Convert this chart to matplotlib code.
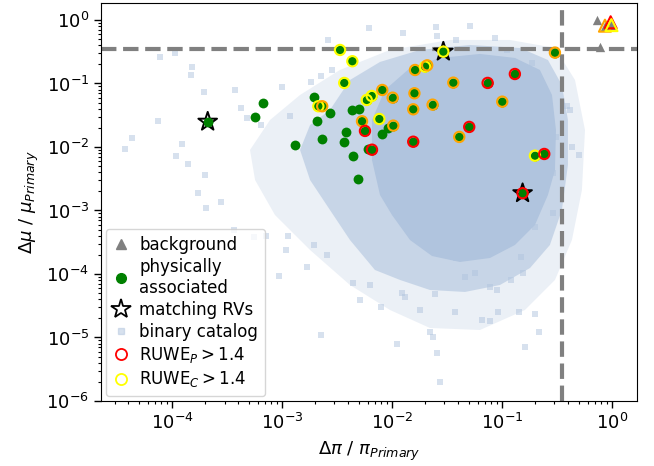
import numpy as np
import matplotlib
matplotlib.use("Agg")
import matplotlib.pyplot as plt
from matplotlib.lines import Line2D

# ---------------- data ----------------
# physically associated pairs: parallax ratio, proper-motion ratio, RUWE flags
pi_ratio = [0.00337, 0.00436, 0.00368, 0.00195, 0.00214, 0.00232, 0.00273, 0.00207,
            0.00436, 0.00504, 0.00589, 0.00654, 0.00816, 0.01014, 0.0162, 0.0160,
            0.0156, 0.00534, 0.00767, 0.00568, 0.00379, 0.00230, 0.00364, 0.00914,
            0.01028, 0.00816, 0.00609, 0.00658, 0.00439, 0.00491, 0.0156, 0.00131,
            0.000676, 0.000569, 0.000211, 0.0293, 0.303, 0.0200, 0.0209, 0.131,
            0.0741, 0.0361, 0.0234, 0.1006, 0.0504, 0.0409, 0.1995, 0.2425, 0.154]
mu_ratio = [0.337, 0.224, 0.102, 0.0607, 0.0438, 0.0438, 0.0339, 0.0260,
            0.0383, 0.0392, 0.0550, 0.0636, 0.0790, 0.0598, 0.163, 0.0701,
            0.0392, 0.0254, 0.0276, 0.0179, 0.0174, 0.0134, 0.0121, 0.0197,
            0.0217, 0.0158, 0.00940, 0.00906, 0.00722, 0.00310, 0.0121, 0.0107,
            0.0493, 0.0294, 0.0250, 0.317, 0.306, 0.184, 0.193, 0.141,
            0.102, 0.103, 0.0464, 0.0517, 0.0207, 0.0144, 0.00730, 0.00776, 0.00187]
ruwe_p = [0, 0, 0, 0, 0, 1, 0, 0, 0, 0, 0, 0, 1, 1, 1, 1, 1, 1, 0, 1, 0, 0, 0, 0,
          1, 0, 0, 1, 0, 0, 1, 0, 0, 0, 0, 0, 1, 0, 1, 1, 1, 1, 1, 1, 1, 1, 0, 1, 1]
ruwe_c = [1, 1, 1, 0, 1, 1, 0, 0, 0, 0, 1, 1, 1, 1, 1, 1, 1, 1, 1, 0, 0, 0, 0, 0,
          1, 0, 0, 0, 0, 0, 0, 0, 0, 0, 0, 1, 1, 1, 1, 0, 0, 1, 1, 1, 0, 1, 1, 0, 0]
rv_match = [0] * 34 + [1, 1] + [0] * 12 + [1]

# background pairs
bg_pi = [0.735, 0.778, 0.864, 0.973, 0.99]
bg_mu = [1.0, 0.380, 0.813, 0.92, 0.83]
bg_ruwe_p = [0, 0, 1, 1, 0]
bg_ruwe_c = [0, 0, 1, 0, 1]

# binary catalog: density contours of the dense body (log10 values) ...
cat_outer_logx = [-3.109, -2.836, -2.473, -2.018, -1.473, -0.927, -0.518, -0.336, -0.245,
                  -0.273, -0.364, -0.518, -0.791, -1.200, -1.655, -2.018, -2.382, -2.745,
                  -3.064, -3.245, -3.291]
cat_outer_logy = [-1.575, -1.181, -0.787, -0.472, -0.315, -0.315, -0.441, -0.945, -1.732,
                  -2.677, -3.465, -4.094, -4.567, -4.882, -4.850, -4.567, -4.173, -3.622,
                  -3.071, -2.520, -2.047]
cat_mid_logx = [-2.564, -2.382, -2.109, -1.745, -1.291, -0.836, -0.582, -0.455, -0.400,
                -0.400, -0.455, -0.564, -0.745, -1.018, -1.336, -1.655, -1.927, -2.155,
                -2.382, -2.564, -2.745, -2.836, -2.745]
cat_mid_logy = [-1.417, -0.945, -0.661, -0.472, -0.394, -0.441, -0.630, -1.024, -1.575,
                -2.283, -2.992, -3.543, -3.906, -4.173, -4.283, -4.252, -4.094, -3.937,
                -3.465, -2.992, -2.520, -2.047, -1.654]
cat_core_logx = [-2.182, -2.064, -1.836, -1.564, -1.200, -0.882, -0.655, -0.545, -0.509,
                 -0.518, -0.582, -0.700, -0.882, -1.109, -1.382, -1.636, -1.836, -2.000,
                 -2.109, -2.182]
cat_core_logy = [-1.575, -1.102, -0.756, -0.598, -0.535, -0.598, -0.787, -1.181, -1.732,
                 -2.362, -2.756, -3.228, -3.543, -3.748, -3.811, -3.717, -3.465, -3.071,
                 -2.756, -2.205]
# ... and individual sparse catalog pairs
cat_pi = [7.85e-5, 1.06e-4, 1.52e-4, 1.48e-4, 1.94e-4, 3.70e-4, 7.45e-5, 4.30e-5, 3.77e-5,
          1.22e-4, 1.08e-4, 1.41e-4, 2.01e-4, 1.73e-4, 2.80e-4, 2.04e-4, 4.28e-4, 4.85e-4,
          6.50e-4, 1.01e-3, 1.17e-3, 1.82e-3, 2.63e-3, 2.83e-3, 2.27e-3, 6.21e-3, 1.26e-2,
          2.51e-2, 5.07e-2, 2.56e-2, 3.84e-2, 8.61e-2, 0.111, 0.186, 0.212, 0.388, 0.417,
          0.433, 0.501, 0.311, 0.289, 0.216, 0.289, 0.200, 1.13e-3, 1.09e-3, 1.96e-3,
          2.54e-3, 1.69e-3, 9.40e-4, 4.40e-3, 5.09e-3, 6.34e-3, 7.91e-3, 1.23e-2, 1.32e-2,
          2.21e-2, 2.38e-2, 2.56e-2, 2.75e-2, 1.10e-2, 2.47e-2, 1.81e-2, 3.78e-2, 6.65e-2,
          7.71e-2, 9.27e-2, 0.144, 0.200, 0.216, 0.161, 7.71e-2, 8.93e-2, 0.120, 0.155,
          0.149, 4.61e-2, 5.74e-2, 3.84e-2, 3.19e-2, 2.24e-3, 5.62e-4, 3.67e-4, 7.16e-4]
cat_mu = [0.258, 0.306, 0.184, 0.136, 0.0726, 0.079, 0.026, 0.0140, 0.00919,
          0.0111, 0.00731, 0.00540, 0.00362, 0.00191, 0.00138, 0.00111, 0.0406, 0.0283,
          0.0222, 0.0871, 0.0308, 0.107, 0.484, 0.163, 0.131, 0.757, 0.617,
          0.785, 0.814, 0.567, 0.484, 0.514, 0.337, 0.208, 0.107, 0.0442, 0.0383,
          0.0101, 0.00748, 0.0146, 0.00385, 0.00146, 9.02e-4, 5.56e-4, 4.02e-4, 2.39e-4, 2.86e-4,
          1.99e-4, 1.27e-4, 9.30e-5, 7.13e-5, 3.90e-5, 6.71e-5, 3.06e-5, 4.97e-5, 4.40e-5,
          1.24e-5, 1.03e-5, 5.64e-6, 2.01e-6, 7.80e-6, 4.79e-5, 2.71e-5, 2.55e-5, 1.89e-5,
          1.82e-5, 2.55e-5, 2.55e-5, 2.34e-5, 1.24e-5, 7.17e-6, 6.32e-5, 5.60e-5, 8.05e-5, 1.05e-4,
          1.88e-4, 9.08e-5, 1.02e-4, 1.77e-4, 2.11e-4, 1.09e-5, 3.87e-4, 4.93e-4, 3.96e-4]

cut_pi = 0.35
cut_mu = 0.35

# ---------------- plot ----------------
fig = plt.figure(figsize=(6.54, 4.66), dpi=100)
ax = fig.add_axes([101 / 654, 65 / 466, 536 / 654, 398 / 466])
ax.set_xscale("log")
ax.set_yscale("log")

cat_color = "lightsteelblue"
for lx, ly, a in [(cat_outer_logx, cat_outer_logy, 0.25),
                  (cat_mid_logx, cat_mid_logy, 0.6),
                  (cat_core_logx, cat_core_logy, 1.0)]:
    ax.fill(10 ** np.array(lx), 10 ** np.array(ly), color=cat_color,
            alpha=a, lw=0, zorder=1)
ax.scatter(cat_pi, cat_mu, marker="s", s=18, color=cat_color, alpha=0.5,
           lw=0, zorder=1)

ax.axhline(cut_mu, color="gray", ls="--", lw=3, zorder=2)
ax.axvline(cut_pi, color="gray", ls="--", lw=3, zorder=2)


def ring_colors(p, c):
    cols = []
    for a, b in zip(p, c):
        if a and b:
            cols.append("orange")
        elif a:
            cols.append("red")
        elif b:
            cols.append("yellow")
        else:
            cols.append(None)
    return cols


# background
ax.scatter(bg_pi, bg_mu, marker="^", s=45, color="gray", lw=0, zorder=3)
for x, y, col in zip(bg_pi, bg_mu, ring_colors(bg_ruwe_p, bg_ruwe_c)):
    if col:
        ax.scatter([x], [y], marker="^", s=75, facecolor="none",
                   edgecolor=col, lw=1.5, zorder=4)

pi_arr = np.array(pi_ratio)
mu_arr = np.array(mu_ratio)
rv = np.array(rv_match, dtype=bool)
ax.scatter(pi_arr[rv], mu_arr[rv], marker="*", s=200, facecolor="none",
           edgecolor="black", lw=1.4, zorder=4)

ax.scatter(pi_arr, mu_arr, marker="o", s=50, color="green", lw=0, zorder=5)
for x, y, col in zip(pi_ratio, mu_ratio, ring_colors(ruwe_p, ruwe_c)):
    if col:
        ax.scatter([x], [y], marker="o", s=55, facecolor="none",
                   edgecolor=col, lw=1.5, zorder=6)

ax.set_xlim(2.26e-5, 1.69)
ax.set_ylim(1e-6, 1.85)

ax.set_xlabel(r"$\Delta\pi$ / $\pi_{Primary}$", fontsize=13, labelpad=5)
ax.set_ylabel(r"$\Delta\mu$ / $\mu_{Primary}$", fontsize=13, labelpad=4)
ax.tick_params(which="major", labelsize=13, length=5, width=1)
ax.tick_params(which="minor", length=2.5, width=0.8)

handles = [
    Line2D([], [], marker="^", ls="none", color="gray", markersize=7),
    Line2D([], [], marker="o", ls="none", color="green", markersize=7),
    Line2D([], [], marker="*", ls="none", markerfacecolor="none",
           markeredgecolor="black", markersize=15, mew=1.3),
    Line2D([], [], marker="s", ls="none", color=cat_color, alpha=0.5, markersize=5),
    Line2D([], [], marker="o", ls="none", markerfacecolor="none",
           markeredgecolor="red", markersize=8, mew=1.3),
    Line2D([], [], marker="o", ls="none", markerfacecolor="none",
           markeredgecolor="yellow", markersize=8, mew=1.3),
]
labels = ["background", "physically\nassociated", "matching RVs", "binary catalog",
          r"RUWE$_P > 1.4$", r"RUWE$_C > 1.4$"]
ax.legend(handles, labels, loc="lower left", fontsize=12, handlelength=1.0,
          handletextpad=0.6, borderaxespad=0.3, labelspacing=0.25,
          borderpad=0.4, framealpha=0.8)

fig.savefig("out.png", dpi=100)
